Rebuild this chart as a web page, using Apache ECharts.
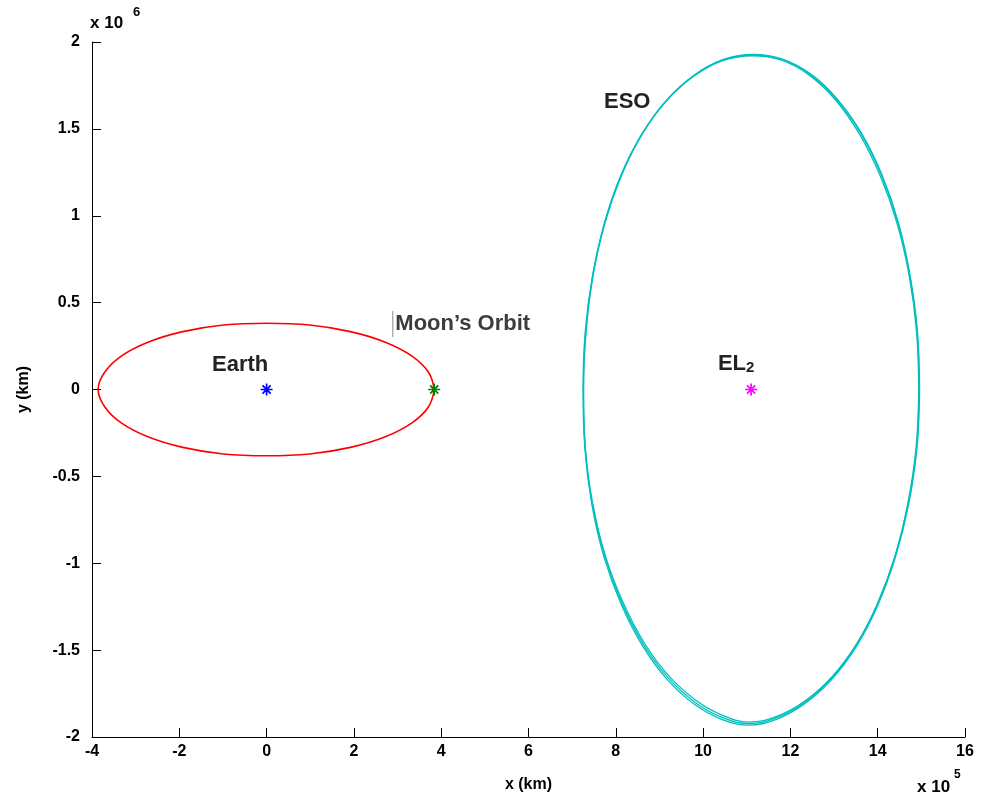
<!DOCTYPE html>
<html>
<head>
<meta charset="utf-8">
<script src="https://cdn.jsdelivr.net/npm/echarts@6/dist/echarts.min.js"></script>
<style>
  html, body { margin: 0; padding: 0; background: #fff; }
  #chart { width: 982px; height: 798px; }
</style>
</head>
<body>
<div id="chart"></div>
<script>
// Axis ticks (x in units of 1e5 km, y in units of 1e6 km)
const xTicks = [-4, -2, 0, 2, 4, 6, 8, 10, 12, 14, 16];
const yTicks = [-2, -1.5, -1, -0.5, 0, 0.5, 1, 1.5, 2];

// Moon's orbit around the Earth
const moonOrbitX = [3.84, 3.71, 3.33, 2.72, 1.92, 0.99, 0, -0.99, -1.92, -2.72, -3.33, -3.71, -3.86,
                    -3.71, -3.33, -2.72, -1.92, -0.99, 0, 0.99, 1.92, 2.72, 3.33, 3.71, 3.84];
const moonOrbitY = [0, 0.099, 0.192, 0.272, 0.333, 0.371, 0.381, 0.371, 0.333, 0.272, 0.192, 0.099, 0,
                    -0.099, -0.192, -0.272, -0.333, -0.371, -0.381, -0.371, -0.333, -0.272, -0.192, -0.099, 0];

// ESO trajectory around EL2, three successive revolutions
const esoRev1X = [14.94, 14.89, 14.72, 14.44, 14.05, 13.58, 13.04, 12.44, 11.80, 11.13, 10.45, 9.80, 9.17, 8.60, 8.13, 7.75, 7.48, 7.32, 7.26,
                  7.30, 7.47, 7.76, 8.17, 8.66, 9.22, 9.84, 10.47, 11.06, 11.70, 12.34, 12.96, 13.52, 14.00, 14.40, 14.69, 14.88, 14.94];
const esoRev1Y = [0, 0.334, 0.657, 0.960, 1.234, 1.471, 1.665, 1.808, 1.895, 1.921, 1.893, 1.806, 1.664, 1.468, 1.232, 0.958, 0.656, 0.333, 0,
                  -0.333, -0.655, -0.956, -1.228, -1.462, -1.650, -1.790, -1.878, -1.914, -1.880, -1.792, -1.652, -1.463, -1.229, -0.957, -0.656, -0.334, 0];
const esoRev2X = [14.96, 14.91, 14.74, 14.47, 14.09, 13.62, 13.07, 12.47, 11.82, 11.16, 10.47, 9.81, 9.18, 8.61, 8.13, 7.75, 7.47, 7.30, 7.25,
                  7.29, 7.45, 7.73, 8.13, 8.62, 9.18, 9.80, 10.44, 11.03, 11.68, 12.32, 12.95, 13.52, 14.01, 14.41, 14.71, 14.90, 14.96];
const esoRev2Y = [0, 0.336, 0.660, 0.965, 1.240, 1.478, 1.672, 1.815, 1.902, 1.929, 1.900, 1.812, 1.670, 1.474, 1.237, 0.962, 0.658, 0.334, 0,
                  -0.335, -0.660, -0.965, -1.240, -1.478, -1.670, -1.812, -1.900, -1.932, -1.898, -1.810, -1.668, -1.476, -1.238, -0.962, -0.659, -0.336, 0];
const esoRev3X = [14.95, 14.90, 14.73, 14.46, 14.08, 13.61, 13.06, 12.46, 11.81, 11.14, 10.46, 9.80, 9.17, 8.60, 8.12, 7.74, 7.47, 7.31, 7.26,
                  7.30, 7.46, 7.75, 8.15, 8.64, 9.20, 9.82, 10.45, 11.05, 11.69, 12.33, 12.95, 13.52, 14.00, 14.40, 14.70, 14.89, 14.95];
const esoRev3Y = [0, 0.335, 0.658, 0.962, 1.238, 1.476, 1.668, 1.811, 1.898, 1.925, 1.897, 1.809, 1.667, 1.471, 1.235, 0.960, 0.657, 0.334, 0,
                  -0.334, -0.658, -0.961, -1.234, -1.470, -1.660, -1.801, -1.889, -1.923, -1.889, -1.801, -1.660, -1.470, -1.233, -0.959, -0.657, -0.335, 0];

// Bodies and the Lagrange point
const bodyNames = ['Earth', 'Moon', 'EL2'];
const bodyX = [0, 3.84, 11.1];
const bodyY = [0, 0, 0];
const bodyColors = ['#0000ff', '#008000', '#ff00ff'];

// Annotation anchors (left edge, vertical centre)
const noteX = [-1.25, 2.88, 7.73, 10.34];
const noteY = [0.141, 0.377, 1.655, 0.147];
const noteText = ['Earth', "Moon's Orbit", 'ESO', 'EL2'];

const zip = (xs, ys) => xs.map((x, i) => [x, ys[i]]);

const FONT = '"Liberation Sans", Arial, Helvetica, sans-serif';
const asterisk = 'path://M5,0 L5,10 M0,5 L10,5 M1.6,1.6 L8.4,8.4 M1.6,8.4 L8.4,1.6';

const orbitLine = (data, color, width) => ({
  type: 'line',
  data: data,
  showSymbol: false,
  smooth: 0.4,
  lineStyle: { color: color, width: width },
  silent: true,
  z: 2
});

const chart = echarts.init(document.getElementById('chart'), null, { renderer: 'canvas' });

const option = {
  backgroundColor: '#ffffff',
  animation: false,
  textStyle: { fontFamily: FONT },
  grid: { left: 92, right: 17, top: 42, bottom: 61, containLabel: false },
  xAxis: {
    type: 'value',
    min: xTicks[0],
    max: xTicks[xTicks.length - 1],
    interval: 2,
    name: 'x (km)',
    nameLocation: 'middle',
    nameGap: 40,
    nameTextStyle: { color: '#000', fontSize: 16, fontWeight: 'bold', fontFamily: FONT },
    axisLine: { onZero: false, lineStyle: { color: '#000', width: 1 } },
    axisTick: { inside: true, length: 9, lineStyle: { color: '#000' } },
    axisLabel: { color: '#000', fontSize: 16, fontWeight: 'bold', margin: 7, fontFamily: FONT },
    splitLine: { show: false }
  },
  yAxis: {
    type: 'value',
    min: yTicks[0],
    max: yTicks[yTicks.length - 1],
    interval: 0.5,
    name: 'y (km)',
    nameLocation: 'middle',
    nameGap: 60,
    nameRotate: 90,
    nameTextStyle: { color: '#000', fontSize: 16, fontWeight: 'bold', fontFamily: FONT },
    axisLine: { onZero: false, lineStyle: { color: '#000', width: 1 } },
    axisTick: { inside: true, length: 9, lineStyle: { color: '#000' } },
    axisLabel: { color: '#000', fontSize: 16, fontWeight: 'bold', margin: 12, fontFamily: FONT },
    splitLine: { show: false }
  },
  graphic: [
    {
      type: 'text', left: 90, top: 15,
      style: { text: 'x 10', font: 'bold 17px ' + FONT, fill: '#000' }
    },
    {
      type: 'text', left: 133, top: 6,
      style: { text: '6', font: 'bold 13px ' + FONT, fill: '#000' }
    },
    {
      type: 'text', left: 917, top: 779,
      style: { text: 'x 10', font: 'bold 17px ' + FONT, fill: '#000' }
    },
    {
      type: 'text', left: 954, top: 769,
      style: { text: '5', font: 'bold 12px ' + FONT, fill: '#000' }
    }
  ],
  series: [
    orbitLine(zip(moonOrbitX, moonOrbitY), '#ff0000', 1.6),
    orbitLine(zip(esoRev1X, esoRev1Y), '#00bfbf', 1.3),
    orbitLine(zip(esoRev2X, esoRev2Y), '#00bfbf', 1.3),
    orbitLine(zip(esoRev3X, esoRev3Y), '#00bfbf', 1.3),
    {
      type: 'scatter',
      name: 'bodies',
      symbol: asterisk,
      symbolSize: 12,
      z: 5,
      data: bodyNames.map((n, i) => ({
        name: n,
        value: [bodyX[i], bodyY[i]],
        itemStyle: { color: 'transparent', borderColor: bodyColors[i], borderWidth: 1.7, opacity: 1 }
      })),
      silent: true
    },
    {
      type: 'scatter',
      name: 'notes',
      symbolSize: 0,
      silent: true,
      z: 6,
      itemStyle: { opacity: 1 },
      data: noteText.map((t, i) => ({ value: [noteX[i], noteY[i]], name: t })),
      label: {
        show: true,
        position: 'right',
        distance: 0,
        opacity: 1,
        textBorderWidth: 0,
        fontFamily: FONT,
        fontWeight: 'bold',
        fontSize: 22,
        color: '#222',
        formatter: p => {
          if (p.name === 'EL2') return '{m|EL}{s|2}';
          if (p.name === "Moon's Orbit") return '{bar|}{g|Moon\u2019s Orbit}';
          return p.name;
        },
        rich: {
          m: { fontFamily: FONT, fontWeight: 'bold', fontSize: 22, color: '#222' },
          s: { fontFamily: FONT, fontWeight: 'bold', fontSize: 15, color: '#222', padding: [8, 0, 0, 0] },
          bar: { width: 1, height: 20, backgroundColor: '#8a8a8a', padding: [0, 0, 6, 0] },
          g: { fontFamily: FONT, fontWeight: 'bold', fontSize: 22, color: '#3c3c3c', padding: [0, 0, 0, 2] }
        }
      }
    }
  ]
};

chart.setOption(option);
</script>
</body>
</html>
